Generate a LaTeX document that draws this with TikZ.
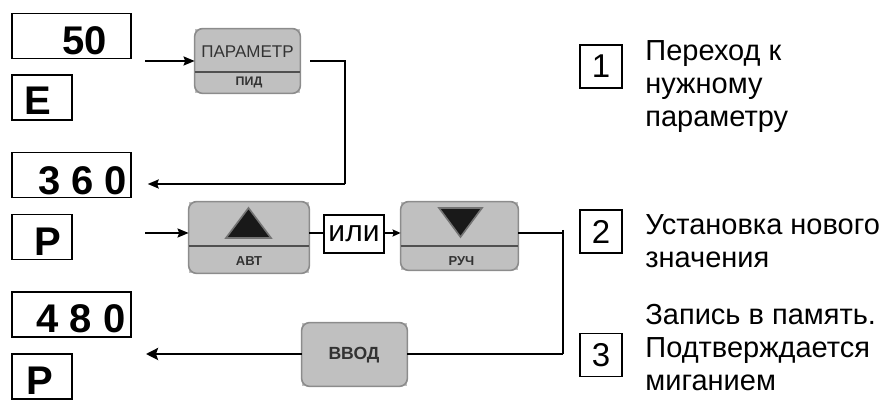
\documentclass[tikz,border=0pt]{standalone}
\usepackage{fontspec}
\setmainfont{Liberation Sans}
\usetikzlibrary{arrows.meta}

\definecolor{btngray}{HTML}{C0C0C0}
\definecolor{btnedge}{HTML}{8C8C8C}
\definecolor{btnline}{HTML}{505050}
\definecolor{btntext}{HTML}{333333}

\newcommand\lcdfont{\fontsize{20}{24}\selectfont\bfseries}
\newcommand\notefont{\fontsize{14.5}{16.5}\selectfont}

\begin{document}
\begin{tikzpicture}[x=0.5pt,y=-0.5pt,
    lcd/.style={draw,line width=0.7pt,inner sep=0pt,minimum width=59.5pt,minimum height=22.5pt},
    lcdsmall/.style={lcd,minimum width=30pt},
    lcdtext/.style={anchor=base,inner sep=0pt,font=\lcdfont},
    button/.style={fill=btngray,inner sep=0pt},
    btnlabel/.style={text=btntext,inner sep=0pt},
    numbox/.style={draw,line width=0.6pt,inner sep=0pt,minimum width=21pt,minimum height=21.5pt,font=\fontsize{16.5}{18}\selectfont},
    note/.style={anchor=north west,inner sep=0pt,align=left,font=\notefont},
    arr/.style={line width=1pt,-{Stealth[length=5.5pt,width=4.5pt,inset=0.8pt]}},
    thinline/.style={line width=0.6pt},
    heavy/.style={line width=1.4pt}]

    %bounding box
    \useasboundingbox (0,0) rectangle (885,415);

    %displays
    \node[lcd] (v50) at (71.5,36) {};
    \node[lcdsmall] (vE) at (42,97.5) {};
    \node[lcd] (v360) at (71.5,175) {};
    \node[lcdsmall] (vP) at (42,237) {};
    \node[lcd] (v480) at (71.5,314.5) {};
    \node[lcdsmall] (vPb) at (42,376.5) {};
    \node[lcdtext] (t50) at (84.5,55) {50};
    \node[lcdtext] (tE) at (37.5,115) {E};
    \node[lcdtext] (t360) at (82.5,195) {3 6 0};
    \node[lcdtext] (tP) at (48,256) {P};
    \node[lcdtext] (t480) at (81,333) {4 8 0};
    \node[lcdtext] (tPb) at (40,395) {P};

    %buttons
    \node[button,minimum width=52.5pt,minimum height=32pt] (par) at (247.5,61) {};
    \node[button,minimum width=60pt,minimum height=35.5pt] (avt) at (249,237.5) {};
    \node[button,minimum width=58.5pt,minimum height=34pt] (ruch) at (459.5,236) {};
    \node[button,minimum width=52.5pt,minimum height=31.5pt] (vvod) at (354.5,354.5) {};
    \foreach \b in {par,avt,ruch,vvod}
        \draw[btnedge,line width=0.8pt,rounded corners=4pt] (\b.south west) rectangle (\b.north east);
    \draw[btnline,line width=1pt] (par.west |- 0,72) -- (par.east |- 0,72);
    \draw[btnline,line width=1pt] (avt.west |- 0,246) -- (avt.east |- 0,246);
    \draw[btnline,line width=1pt] (ruch.west |- 0,246) -- (ruch.east |- 0,246);
    \filldraw[fill=black!90,draw=black!55,line width=0.8pt] (226,238) -- (248.5,208) -- (271,238) -- cycle;
    \filldraw[fill=black!90,draw=black!55,line width=0.8pt] (439,208) -- (460.5,237) -- (482,208) -- cycle;
    \node[btnlabel,font=\fontsize{8.5}{10}\selectfont] (lpar) at (247.5,52) {ПАРАМЕТР};
    \node[btnlabel,font=\fontsize{6.2}{7}\selectfont\bfseries] (lpid) at (249,82) {ПИД};
    \node[btnlabel,font=\fontsize{6.5}{7}\selectfont\bfseries] (lavt) at (249,261) {АВТ};
    \node[btnlabel,font=\fontsize{6.5}{7}\selectfont\bfseries] (lruch) at (461.5,261) {РУЧ};
    \node[btnlabel,font=\fontsize{8.8}{10}\selectfont\bfseries] (lvvod) at (354,355) {ВВОД};
    \node[draw,line width=0.6pt,fill=white,inner sep=0pt,minimum width=30pt,minimum height=19pt,font=\fontsize{15}{17}\selectfont] (ili) at (354,234) {или};

    %connectors
    \coordinate (s1) at (145,61);
    \coordinate (k1) at (345,184);
    \coordinate (s2) at (145,233);
    \coordinate (k2) at (563,233);
    \coordinate (k3) at (563,354);
    \coordinate (e3) at (146,354);
    \draw[arr] (s1) -- (s1 -| par.west);
    \draw[thinline,shorten <=5pt] (par.east) -| (k1);
    \draw[arr,shorten >=8pt] (k1) -- (k1 -| v360.east);
    \draw[arr] (s2) -- (s2 -| avt.west);
    \draw[thinline] (s2 -| avt.east) -- (s2 -| ili.west);
    \draw[line width=0.8pt,-{Stealth[length=4pt,width=3.5pt,inset=0.6pt]}] (s2 -| ili.east) -- (s2 -| ruch.west);
    \draw[thinline] (s2 -| ruch.east) -- (k2);
    \draw[thinline] ([yshift=1.5pt]k2) -- (k3);
    \draw[heavy] (k3) -- (k3 -| vvod.east);
    \draw[heavy,-{Stealth[length=6pt,width=6pt,inset=1pt]}] (e3 -| vvod.west) -- (e3);

    %steps
    \node[numbox] (n1) at (601,66.5) {1};
    \node[numbox] (n2) at (601,231.5) {2};
    \node[numbox] (n3) at (601,355) {3};
    \node[note] (d1) at (645,40) {Переход к\\нужному\\параметру};
    \node[note] (d2) at (645,214) {Установка нового\\значения};
    \node[note] (d3) at (645,304) {Запись в память.\\Подтверждается\\миганием};
\end{tikzpicture}
\end{document}
